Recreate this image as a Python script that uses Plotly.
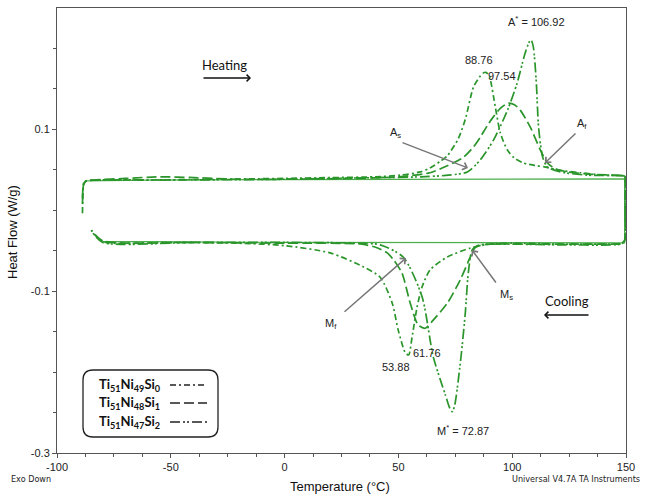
import plotly.graph_objects as go

# ---------------- data ----------------
# Ti51Ni49Si0 : heating peak 88.76, cooling peak 53.88
si0_T = [-88.8, -88.6, -88.2, -87.0, -84.0, -60.0, -30.0, 0.0, 20.0, 40.0, 50.8, 59.6, 63.9, 68.4, 71.5,
         76.3, 79.4, 83.0, 85.6, 87.2, 88.4, 89.6, 90.4, 92.6, 94.8, 97.9, 101.0, 104.9, 110.0, 114.6,
         121.0, 130.0, 140.0, 149.3, 149.6, 149.7, 149.5, 148.5, 146.5, 140.0, 120.0, 100.0, 90.4,
         81.6, 71.5, 63.9, 60.4, 58.2, 56.0, 54.5, 53.0, 49.9, 47.3, 42.0, 34.5, 20.0, 0.0, -20.0,
         -50.0, -79.9, -84.9]
si0_HF = [-0.004, 0.022, 0.032, 0.036, 0.037, 0.037, 0.038, 0.039, 0.040, 0.041, 0.043, 0.047, 0.052, 0.060, 0.067,
          0.088, 0.112, 0.152, 0.164, 0.169, 0.170, 0.167, 0.161, 0.127, 0.095, 0.074, 0.064, 0.058, 0.055, 0.053,
          0.049, 0.046, 0.043, 0.042, 0.041, 0.000, -0.036, -0.041, -0.042, -0.042, -0.042, -0.041, -0.042,
          -0.047, -0.058, -0.074, -0.095, -0.120, -0.157, -0.179, -0.176, -0.148, -0.115, -0.083, -0.070, -0.053, -0.044, -0.041,
          -0.040, -0.039, -0.025]

# Ti51Ni48Si1 : heating peak 97.54, cooling peak 61.76
si1_T = [-88.8, -88.6, -88.2, -87.0, -84.0, -70.0, -55.0, -40.0, -20.0, 0.0, 30.0, 50.0, 63.9, 71.0, 78.5,
         83.0, 86.0, 89.0, 91.7, 95.0, 98.3, 101.0, 103.6, 108.0, 112.4, 115.5, 119.0, 124.3, 135.0, 149.3,
         149.6, 149.8, 149.7, 148.8, 146.0, 130.0, 100.0, 90.4, 83.8, 81.6, 77.2, 71.5, 65.3, 61.8, 58.7,
         55.2, 51.6, 48.0, 45.1, 40.0, 33.2, 0.0, -40.0, -79.9, -84.9]
si1_HF = [0.008, 0.024, 0.033, 0.036, 0.037, 0.039, 0.041, 0.040, 0.038, 0.038, 0.039, 0.041, 0.046, 0.054, 0.065,
          0.078, 0.090, 0.104, 0.115, 0.126, 0.132, 0.130, 0.123, 0.102, 0.074, 0.058, 0.051, 0.047, 0.044, 0.042,
          0.041, 0.000, -0.035, -0.041, -0.042, -0.042, -0.042, -0.042, -0.046, -0.058, -0.086, -0.115, -0.136, -0.146, -0.142,
          -0.115, -0.078, -0.062, -0.053, -0.046, -0.042, -0.041, -0.040, -0.038, -0.025]

# Ti51Ni47Si2 : heating peak 106.92, cooling peak 72.87
si2_T = [-88.8, -88.6, -88.2, -87.0, -84.0, -50.0, 0.0, 40.0, 60.0, 72.0, 80.3, 86.0, 91.7, 97.9, 102.2,
         105.5, 107.4, 108.3, 109.3, 110.6, 111.6, 113.4, 115.5, 121.2, 133.0, 149.3, 149.5, 149.6, 149.4,
         147.5, 145.0, 120.0, 95.0, 85.8, 82.5, 80.7, 79.4, 77.2, 74.6, 73.6, 72.6, 70.6, 65.3, 60.4,
         52.1, 42.0, 33.2, 0.0, -40.0, -79.9, -84.9]
si2_HF = [0.015, 0.027, 0.034, 0.036, 0.037, 0.037, 0.038, 0.040, 0.041, 0.043, 0.047, 0.062, 0.086, 0.123, 0.157,
          0.192, 0.207, 0.210, 0.201, 0.157, 0.102, 0.065, 0.053, 0.047, 0.043, 0.042, 0.041, 0.000, -0.037,
          -0.042, -0.043, -0.043, -0.042, -0.043, -0.049, -0.078, -0.127, -0.189, -0.243, -0.249, -0.245, -0.228, -0.181, -0.107,
          -0.058, -0.043, -0.041, -0.040, -0.040, -0.040, -0.026]

# solid baseline loop
base_T = [-87.5, -60.0, 0.0, 60.0, 120.0, 149.4, 149.4, 120.0, 60.0, 0.0, -60.0, -80.0]
base_HF = [0.036, 0.037, 0.0375, 0.038, 0.0385, 0.0385, -0.0405, -0.0405, -0.0405, -0.040, -0.039, -0.039]

series_names = ["Ti<sub>51</sub>Ni<sub>49</sub>Si<sub>0</sub>",
                "Ti<sub>51</sub>Ni<sub>48</sub>Si<sub>1</sub>",
                "Ti<sub>51</sub>Ni<sub>47</sub>Si<sub>2</sub>"]
series_dash = ["6px,3px,2px,3px", "10px,4px", "10px,3px,2px,2px,2px,3px"]

x_ticks = [-100, -50, 0, 50, 100, 150]
y_ticks = [0.1, -0.1, -0.3]

# ---------------- layout geometry ----------------
W, H = 646, 494
ML, MR, MT, MB = 57, 20, 8, 41
XR = [-100, 150]
YR = [-0.3, 0.2494]
PW, PH = W - ML - MR, H - MT - MB


def X(px):
    return XR[0] + (px - ML) / PW * (XR[1] - XR[0])


def Y(py):
    return YR[1] - (py - MT) / PH * (YR[1] - YR[0])


def PX(px):
    return (px - ML) / PW


def PY(py):
    return 1 - (py - MT) / PH


GREEN = "#2a952a"

fig = go.Figure()
fig.add_trace(go.Scatter(x=base_T, y=base_HF, mode="lines",
                         line=dict(color="#4caf4c", width=1.2), hoverinfo="skip"))
for T, HF, d in [(si0_T, si0_HF, series_dash[0]), (si1_T, si1_HF, series_dash[1]),
                 (si2_T, si2_HF, series_dash[2])]:
    fig.add_trace(go.Scatter(x=T, y=HF, mode="lines",
                             line=dict(color=GREEN, width=1.7, dash=d, shape="spline", smoothing=0.7),
                             hoverinfo="skip"))

anns = []
LAB = dict(family="Liberation Sans, Arial", size=11, color="#222")


def txt(px, py, s, font=LAB, **kw):
    d = dict(x=PX(px), y=PY(py), xref="paper", yref="paper", text=s, showarrow=False, font=font,
             xanchor="center", yanchor="middle")
    d.update(kw)
    anns.append(d)


def arrow(x0, y0, x1, y1, color, width=1.5, head=4):
    anns.append(dict(x=X(x1), y=Y(y1), ax=X(x0), ay=Y(y0), xref="x", yref="y", axref="x", ayref="y",
                     text="", showarrow=True, arrowhead=head, arrowsize=1, arrowwidth=width,
                     arrowcolor=color, standoff=0, startstandoff=0))


CAL = dict(family="Lato, Open Sans", size=13, color="#111")
txt(224, 65, "Heating", CAL)
arrow(202, 78, 251, 78, "#111", 1.3)
txt(567, 301, "Cooling", CAL)
arrow(590, 315, 544, 315, "#111", 1.3)

txt(536, 21, "A<sup>*</sup> = 106.92")
txt(479, 60, "88.76")
txt(502, 76, "97.54")
txt(395, 133, "A<sub>s</sub>")
arrow(401, 142, 468, 168, "#777")
txt(582, 124, "A<sub>f</sub>")
arrow(577, 132, 545, 163, "#777")

txt(331, 324, "M<sub>f</sub>")
arrow(343, 313, 406, 258, "#777")
txt(506, 295, "M<sub>s</sub>")
arrow(497, 284, 472, 250, "#777")
txt(396, 367, "53.88")
txt(427, 353, "61.76")
txt(463, 430, "M<sup>*</sup> = 72.87")

# axis titles and footer
txt(340, 486, "Temperature (°C)", dict(family="Liberation Sans, Arial", size=13, color="#111"))
txt(12, 232, "Heat Flow (W/g)", dict(family="Liberation Sans, Arial", size=13, color="#111"), textangle=-90)
SMALL = dict(family="Liberation Sans Narrow, DejaVu Sans Condensed, Liberation Sans", size=9, color="#222")
txt(9, 479, "Exo Down", SMALL, xanchor="left")
txt(642, 479, "Universal V4.7A TA Instruments", SMALL, xanchor="right")

# legend box (rounded)
bx0, by0, bx1, by1, r = 83, 370, 218, 437, 10
path = (f"M {X(bx0 + r)},{Y(by0)} L {X(bx1 - r)},{Y(by0)} Q {X(bx1)},{Y(by0)} {X(bx1)},{Y(by0 + r)} "
        f"L {X(bx1)},{Y(by1 - r)} Q {X(bx1)},{Y(by1)} {X(bx1 - r)},{Y(by1)} "
        f"L {X(bx0 + r)},{Y(by1)} Q {X(bx0)},{Y(by1)} {X(bx0)},{Y(by1 - r)} "
        f"L {X(bx0)},{Y(by0 + r)} Q {X(bx0)},{Y(by0)} {X(bx0 + r)},{Y(by0)} Z")
shapes = [dict(type="path", path=path, xref="x", yref="y", line=dict(color="#222", width=1.3),
               fillcolor="white", layer="above")]
LEG = dict(family="Lato, Open Sans", size=13, color="#111")
rows = [385, 403, 422]
for name, d, ry in zip(series_names, series_dash, rows):
    anns.append(dict(x=PX(97), y=PY(ry), xref="paper", yref="paper", text="<b>" + name + "</b>",
                     showarrow=False, xanchor="left", yanchor="middle", font=LEG))
    shapes.append(dict(type="line", xref="x", yref="y", x0=X(170), x1=X(207), y0=Y(ry), y1=Y(ry),
                       line=dict(color="#222", width=1.5, dash=d), layer="above"))

TICKF = dict(family="Liberation Sans, Arial", size=11, color="#222")
fig.update_layout(
    width=W, height=H, margin=dict(l=ML, r=MR, t=MT, b=MB),
    plot_bgcolor="white", paper_bgcolor="white", showlegend=False,
    annotations=anns, shapes=shapes,
    xaxis=dict(range=XR, showline=True, linecolor="#555", linewidth=1, mirror=True,
               ticks="outside", ticklen=4, tickcolor="#555", tickmode="array",
               tickvals=x_ticks, ticktext=[str(v) for v in x_ticks], tickfont=TICKF,
               showgrid=False, zeroline=False,
               minor=dict(tickmode="linear", tick0=-100, dtick=12.5, ticks="outside", ticklen=3,
                          tickcolor="#555", showgrid=False)),
    yaxis=dict(range=YR, showline=True, linecolor="#555", linewidth=1, mirror=True,
               ticks="outside", ticklen=4, tickcolor="#555", tickmode="array",
               tickvals=y_ticks, ticktext=[str(v) for v in y_ticks], tickfont=TICKF,
               showgrid=False, zeroline=False,
               minor=dict(tickmode="linear", tick0=0.1, dtick=0.05, ticks="outside", ticklen=3,
                          tickcolor="#555", showgrid=False)),
)

fig.write_html("out.html")
